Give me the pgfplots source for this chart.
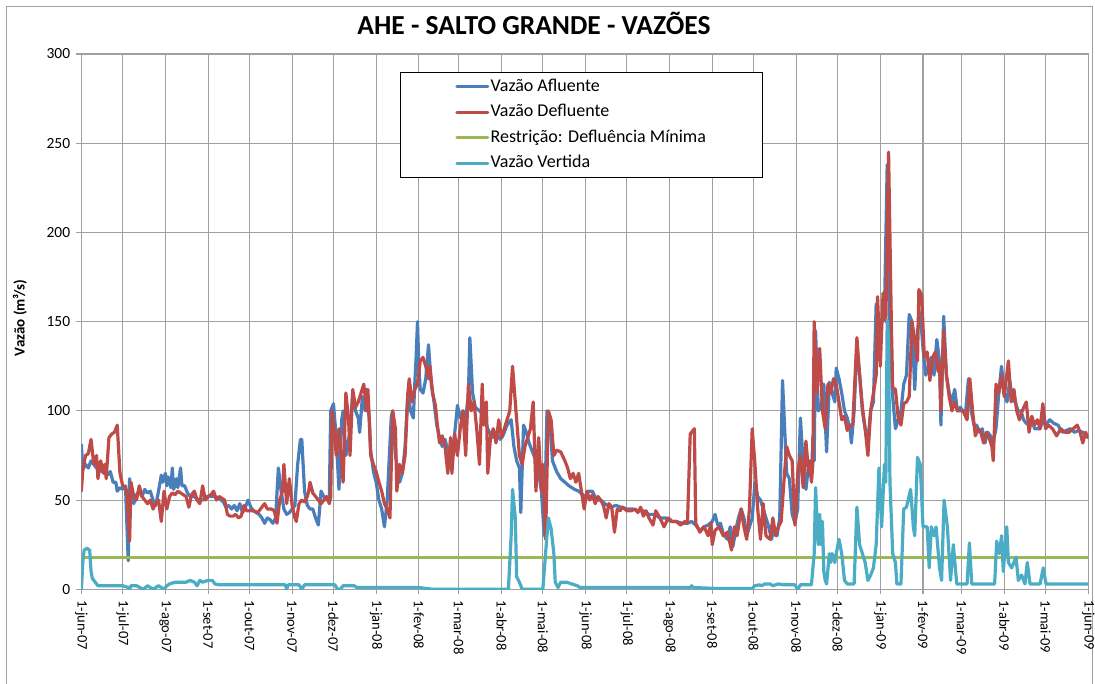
\documentclass[border=0pt]{standalone}
\usepackage{fontspec}
\setmainfont{Carlito}
\usepackage{pgfplots}
\usepackage{pgfplotstable}
\pgfplotsset{compat=1.18}
\definecolor{cAfl}{HTML}{4A7EBB}
\definecolor{cDef}{HTML}{BE4B48}
\definecolor{cRes}{HTML}{98B954}
\definecolor{cVer}{HTML}{4BACC6}
\definecolor{cGrid}{RGB}{160,160,160}

\pgfplotstableread{
d v
0 81
1 67
3 70
5 68
7 72
9 70
11 68
13 67
15 66
17 68
19 64
21 66
23 60
25 60
26 55
28 57
30 56
32 58
34 16
35 62
36 55
38 48
40 53
42 55
44 52
46 56
48 54
50 55
52 50
54 47
56 55
58 64
59 60
61 65
62 58
63 63
65 57
66 68
67 56
69 62
70 57
72 68
73 58
75 58
77 54
79 52
82 52
85 50
88 50
91 52
94 52
97 52
100 51
103 49
105 46
107 47
109 45
111 47
113 44
115 48
117 43
119 46
121 50
123 46
125 44
127 43
129 42
131 40
133 37
135 40
137 39
139 37
141 40
143 68
145 55
147 45
149 42
151 43
153 45
155 47
157 70
159 84
160 84
162 55
164 47
166 45
168 45
170 40
172 36
174 55
176 52
178 50
180 52
181 100
183 104
185 85
186 70
187 56
189 95
190 100
192 75
195 88
197 110
199 100
201 96
202 88
204 108
206 100
207 112
209 95
210 78
212 66
214 60
216 50
218 45
220 35
222 50
225 97
226 100
228 75
231 60
233 65
235 80
237 110
239 100
241 96
242 115
243 130
244 150
245 125
246 112
248 110
250 118
252 137
254 115
256 105
258 92
260 85
262 80
264 84
266 78
268 75
270 80
272 95
273 103
275 96
277 100
279 95
281 110
282 141
284 110
286 102
289 100
292 98
295 90
298 85
301 88
304 84
306 86
309 92
312 95
314 80
316 72
318 68
319 43
321 92
323 88
325 82
327 78
330 72
332 65
334 55
336 30
338 100
340 95
342 72
345 66
348 62
351 60
354 58
358 56
361 55
364 53
366 52
368 55
371 55
374 50
377 50
380 48
384 46
388 47
392 46
396 45
400 45
404 44
408 44
412 42
416 42
420 40
424 40
428 38
432 38
436 37
440 37
443 38
446 36
449 33
452 35
455 36
458 38
460 42
462 36
464 37
466 31
469 28
471 35
473 24
475 33
477 40
479 45
481 40
483 30
485 35
487 40
489 60
491 52
493 50
495 45
497 40
499 35
501 28
503 35
505 30
507 40
509 117
510 100
512 65
514 62
516 42
518 37
520 45
522 96
524 70
526 56
528 70
530 62
531 85
532 72
533 145
535 100
537 102
539 115
541 77
543 116
545 110
547 105
548 124
550 118
552 110
554 100
556 96
558 90
559 82
561 100
563 136
565 120
567 100
569 90
571 83
573 100
575 105
577 160
579 135
581 150
583 155
585 238
587 140
589 108
591 90
593 95
595 100
597 115
599 120
601 154
603 150
605 112
607 145
609 155
611 135
613 120
615 125
617 130
619 120
621 140
623 128
624 92
626 153
628 120
630 110
632 105
634 112
636 100
638 102
640 100
642 100
644 118
646 100
648 92
650 92
652 88
654 90
656 82
658 88
660 86
662 83
664 90
666 110
668 125
670 110
672 105
674 117
676 106
678 105
680 100
682 100
684 95
686 93
688 92
690 95
692 90
694 90
696 90
698 95
700 92
703 95
706 93
709 92
712 88
715 89
718 90
721 88
724 89
727 88
729 86
731 85
}\afl

\pgfplotstableread{
d v
0 55
1 67
3 75
5 76
7 84
9 70
11 75
12 62
14 72
16 65
17 70
18 62
20 85
22 87
24 88
26 92
28 65
30 58
32 57
33 55
35 27
36 60
38 52
40 50
42 58
44 52
46 50
48 48
50 50
52 45
54 48
56 50
58 38
60 55
62 45
64 52
66 54
68 53
70 55
72 54
74 53
76 52
78 46
80 53
82 55
84 50
86 48
88 58
90 50
92 52
94 53
96 55
98 50
100 52
102 51
104 50
106 42
108 41
110 41
112 42
114 40
116 41
118 47
120 44
122 44
125 44
128 43
131 46
133 48
135 45
138 45
140 44
142 37
144 50
146 55
147 70
149 48
151 62
153 47
155 40
156 38
158 48
160 50
162 49
164 52
165 55
166 60
168 54
170 52
172 50
174 48
176 50
178 52
180 48
181 52
182 100
184 85
185 75
187 90
189 70
190 60
192 110
194 95
195 75
197 112
199 102
201 105
203 110
205 115
206 108
207 100
208 112
209 95
210 75
212 70
214 66
216 60
218 55
220 48
222 45
224 40
226 100
228 90
229 55
231 70
233 65
235 75
237 110
238 118
240 105
242 112
244 115
246 128
248 130
250 125
252 118
253 125
255 110
257 103
258 95
260 82
262 86
264 80
266 65
268 85
269 65
271 87
273 75
275 90
277 100
279 75
281 115
283 100
285 105
287 90
289 70
291 115
292 92
294 105
295 65
297 85
299 90
301 82
303 95
305 85
307 90
309 95
311 100
313 125
314 115
316 95
318 75
320 70
322 80
324 85
326 90
328 105
330 55
332 85
334 55
335 70
337 28
339 100
341 95
343 75
345 78
348 77
351 72
353 68
355 62
357 65
359 60
361 65
363 55
365 45
367 55
369 50
371 53
373 48
375 52
377 50
379 47
381 40
383 48
385 46
387 32
389 45
391 44
393 46
396 44
399 44
402 45
404 43
406 46
408 41
410 44
412 40
415 36
417 44
420 40
423 35
426 40
429 38
432 38
435 36
438 38
440 37
442 87
445 90
446 37
449 32
452 35
455 30
457 37
458 25
460 33
463 35
466 30
469 32
472 22
474 35
476 30
479 45
481 35
483 28
485 45
487 90
489 70
491 45
493 28
495 48
497 30
500 28
502 40
504 30
506 35
508 38
510 60
512 80
514 75
516 72
518 36
520 65
522 75
524 57
526 83
528 65
529 72
530 60
531 70
532 150
534 110
536 135
538 100
540 90
542 115
544 110
546 118
548 115
550 105
552 95
554 97
556 89
558 92
560 92
563 141
565 120
567 102
569 90
571 75
573 100
575 110
577 120
578 164
580 125
582 166
584 150
586 245
588 150
589 113
591 112
593 96
595 92
597 104
599 105
601 108
603 150
605 140
607 128
608 168
610 165
612 130
614 133
616 117
618 130
620 133
622 122
623 127
624 100
626 145
628 120
630 108
632 100
634 105
636 100
640 100
643 95
645 118
647 100
649 86
651 90
653 88
655 82
657 88
659 85
661 80
662 72
664 115
666 110
668 120
670 108
673 128
675 105
677 112
679 100
681 95
683 100
686 105
688 88
690 97
692 92
694 95
696 90
698 104
700 90
702 92
705 90
708 86
711 90
714 88
717 88
720 90
723 92
725 88
727 82
729 88
731 85
}\dfl

\pgfplotstableread{
d v
0 18
731 18
}\res

\pgfplotstableread{
d v
0 0
1 15
2 22
4 23
6 22
7 10
8 6
10 4
12 2
20 2
30 2
34 1
35 0
36 2
40 2
45 0
48 2
52 0
56 2
60 0
62 2
64 3
68 4
72 4
76 4
79 5
82 4
84 2
86 5
88 4
92 5
95 5
97 3
100 2.5
140 2.5
148 2.5
149 0
150 2.5
158 2.5
160 0
162 2.5
180 2.5
184 2.5
186 0
188 0
190 2
198 2
200 1
245 1
250 0.5
255 0
310 0
312 30
313 56
315 40
316 7
318 4
320 0
335 0
337 20
339 40
341 34
343 20
344 4
346 1
348 4
352 4
356 3
360 2
362 1
400 1
442 1
443 2
444 1
460 0.5
487 0.5
489 2
492 2.5
494 2
496 3
500 3
502 2
506 3
510 2.5
514 2.5
518 2.5
520 0
522 2.5
530 2.5
532 20
533 57
534 40
535 25
536 42
537 25
538 38
539 10
540 5
541 3
543 20
544 15
545 20
546 18
547 15
548 20
550 28
552 20
554 5
556 3
558 3
561 3
563 46
565 25
567 20
569 15
571 5
573 8
575 12
577 25
579 68
581 35
583 70
584 60
585 151
586 140
587 60
589 20
591 15
592 3
595 3
597 45
599 46
602 56
604 35
605 30
607 74
609 70
611 35
614 35
615.5 12
617 35
619 30
620.5 35
623 12
624.5 5
626.3 50
628.7 35
631 5
633 25
635.5 3
643 3
644.7 26
646.4 3
663 3
664.5 27
666.4 20
668.1 30
669.3 10
671.8 35
673 15
675.4 12
678.5 18
680.2 5
682.6 8
685 3
686.7 15
688.7 3
696 3
698.3 12
700.3 3
731 3
}\ver

\begin{document}
\begin{tikzpicture}
\useasboundingbox (0pt,0pt) rectangle (1095pt,683pt);
\draw[color=cGrid, line width=1pt] (6.5pt,-5pt) -- (6.5pt,676.5pt) -- (1092.5pt,676.5pt) -- (1092.5pt,-5pt);
\node[anchor=base, font=\fontsize{27.5}{27.5}\selectfont\bfseries] at (534pt,648pt) {AHE - SALTO GRANDE - VAZÕES};
\begin{axis}[
  at={(81.4pt,93.7pt)}, anchor=south west,
  scale only axis, width=1006.9pt, height=535.3pt,
  xmin=0, xmax=731, ymin=0, ymax=300,
  xtick={0,30,61,92,122,153,183,214,245,274,305,335,366,396,427,458,488,519,549,580,611,639,670,700,731},
  xticklabels={1-jun-07,1-jul-07,1-ago-07,1-set-07,1-out-07,1-nov-07,1-dez-07,1-jan-08,1-fev-08,1-mar-08,1-abr-08,1-mai-08,1-jun-08,1-jul-08,1-ago-08,1-set-08,1-out-08,1-nov-08,1-dez-08,1-jan-09,1-fev-09,1-mar-09,1-abr-09,1-mai-09,1-jun-09},
  ytick={0,50,100,150,200,250,300},
  grid=major,
  grid style={color=cGrid, line width=1.1pt},
  axis line style={color=cGrid, line width=1.1pt},
  tick style={color=cGrid, line width=1.1pt},
  tick align=outside, tick pos=left, major tick length=5pt,
  /pgf/number format/assume math mode=true,
  xticklabel style={rotate=-90, anchor=west, font=\fontsize{14.5}{14.5}\selectfont, inner xsep=6pt},
  yticklabel style={font=\fontsize{15.5}{15.5}\selectfont, inner xsep=6pt},
  ylabel={Vazão (m³/s)},
  ylabel style={at={(axis description cs:-0.061,0.507)}, anchor=center, font=\fontsize{15}{15}\selectfont\bfseries},
  legend cell align=left,
  legend style={at={(axis description cs:0.3164,0.967)}, anchor=north west,
    draw=black, line width=1pt, fill=white, inner xsep=55pt, inner ysep=5pt,
    font=\fontsize{18}{18}\selectfont, row sep=6pt,
    nodes={inner sep=1.2pt, text height=13pt, text depth=4pt}},
  legend image code/.code={\draw[#1, line width=3pt] (0pt,0pt) -- (31pt,0pt);},
  every axis plot/.append style={line width=3.2pt, line join=round, line cap=round},
]
\addplot[color=cAfl] table[x=d,y=v] {\afl};
\addlegendentry{Vazão Afluente}
\addplot[color=cDef] table[x=d,y=v] {\dfl};
\addlegendentry{Vazão Defluente}
\addplot[color=cRes] table[x=d,y=v] {\res};
\addlegendentry{Restrição: Defluência Mínima}
\addplot[color=cVer] table[x=d,y=v] {\ver};
\addlegendentry{Vazão Vertida}
\end{axis}
\end{tikzpicture}
\end{document}
